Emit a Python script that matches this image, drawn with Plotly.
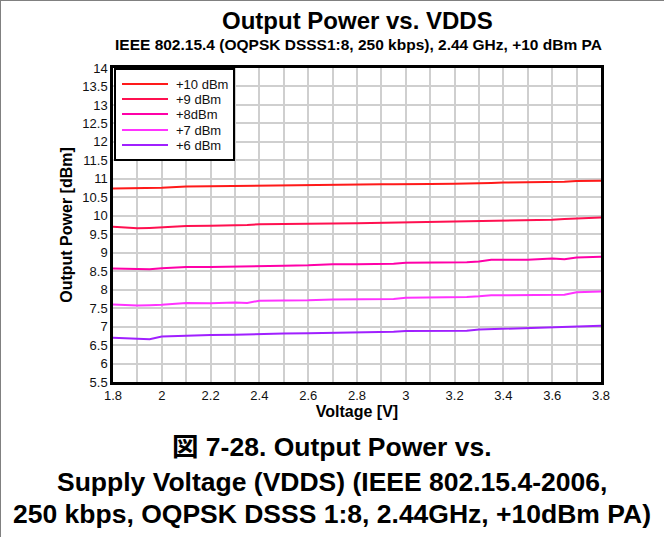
import plotly.graph_objects as go

# Supply voltage sweep points [V]
voltage = [1.8, 1.9, 1.95, 2.0, 2.1, 2.2, 2.3, 2.35, 2.4, 2.5, 2.6, 2.7, 2.8, 2.9,
           2.95, 3.0, 3.1, 3.2, 3.25, 3.3, 3.35, 3.4, 3.5, 3.6, 3.65, 3.7, 3.8]

# Measured output power [dBm] per PA setting
p_10dbm = [10.74, 10.74, 10.74, 10.76, 10.79, 10.80, 10.80, 10.81, 10.82, 10.82, 10.83, 10.83, 10.84, 10.85,
           10.85, 10.86, 10.86, 10.87, 10.87, 10.87, 10.89, 10.90, 10.90, 10.91, 10.92, 10.94, 10.95]
p_9dbm = [9.70, 9.66, 9.67, 9.69, 9.72, 9.73, 9.73, 9.75, 9.77, 9.77, 9.78, 9.79, 9.80, 9.81,
          9.82, 9.83, 9.83, 9.84, 9.84, 9.86, 9.86, 9.87, 9.88, 9.89, 9.91, 9.93, 9.95]
p_8dbm = [8.57, 8.56, 8.55, 8.58, 8.61, 8.61, 8.63, 8.63, 8.64, 8.65, 8.66, 8.69, 8.69, 8.69,
          8.70, 8.73, 8.73, 8.74, 8.74, 8.76, 8.81, 8.81, 8.81, 8.84, 8.82, 8.87, 8.89]
p_7dbm = [7.60, 7.57, 7.58, 7.59, 7.64, 7.63, 7.65, 7.64, 7.70, 7.70, 7.71, 7.73, 7.74, 7.73,
          7.75, 7.78, 7.78, 7.78, 7.80, 7.82, 7.85, 7.85, 7.86, 7.86, 7.86, 7.93, 7.95]
p_6dbm = [6.70, 6.68, 6.66, 6.73, 6.76, 6.77, 6.78, 6.79, 6.81, 6.81, 6.82, 6.83, 6.84, 6.84,
          6.86, 6.88, 6.88, 6.89, 6.89, 6.92, 6.93, 6.94, 6.95, 6.96, 6.97, 6.99, 7.02]

series_names = ["+10 dBm", "+9 dBm", "+8dBm", "+7 dBm", "+6 dBm"]
series_values = [p_10dbm, p_9dbm, p_8dbm, p_7dbm, p_6dbm]
series_colors = ["#ff1a1a", "#ff1050", "#ff00a8", "#ff33ff", "#a020ff"]

x_tick_vals = [1.8, 2.0, 2.2, 2.4, 2.6, 2.8, 3.0, 3.2, 3.4, 3.6, 3.8]
x_tick_text = ["1.8", "2", "2.2", "2.4", "2.6", "2.8", "3", "3.2", "3.4", "3.6", "3.8"]
y_tick_vals = [5.5, 6, 6.5, 7, 7.5, 8, 8.5, 9, 9.5, 10, 10.5, 11, 11.5, 12, 12.5, 13, 13.5, 14]

W, H = 664, 537
ML, MR, MT, MB = 113, 63, 68, 155
PW, PH = W - ML - MR, H - MT - MB


def px(x):
    return (x - ML) / PW


def py(y):
    return (H - MB - y) / PH


FONT = "Liberation Sans, Arial, Helvetica, sans-serif"
CJK_FONT = "Liberation Sans, Noto Sans CJK JP, sans-serif"

fig = go.Figure()
for name, vals, col in zip(series_names, series_values, series_colors):
    fig.add_trace(go.Scatter(x=voltage, y=vals, name=name, mode="lines",
                             line=dict(color=col, width=2), showlegend=False))

grid = "#cfcfcf"
fig.update_xaxes(range=[1.8, 3.8], tickvals=x_tick_vals, ticktext=x_tick_text,
                 showgrid=True, gridcolor=grid, gridwidth=1.5,
                 minor=dict(dtick=0.1, tick0=1.8, showgrid=True, gridcolor=grid, gridwidth=1.5),
                 showline=True, linecolor="black", linewidth=2.5, mirror=True,
                 ticks="", zeroline=False,
                 tickfont=dict(family=FONT, size=13, color="#111"),
                 title=dict(text="<b>Voltage [V]</b>", font=dict(family=FONT, size=16, color="black"),
                            standoff=4))
fig.update_yaxes(range=[5.5, 14], tickvals=y_tick_vals,
                 showgrid=True, gridcolor=grid, gridwidth=1.5,
                 showline=True, linecolor="black", linewidth=2.5, mirror=True,
                 ticks="", zeroline=False,
                 tickfont=dict(family=FONT, size=13, color="#111"),
                 title=dict(text="<b>Output Power [dBm]</b>", font=dict(family=FONT, size=16, color="black"),
                            standoff=6))

shapes = []
annotations = []

# Legend box drawn inside the upper-left corner of the plot
shapes.append(dict(type="rect", xref="paper", yref="paper",
                   x0=px(115), x1=px(234), y0=py(160), y1=py(69),
                   line=dict(color="black", width=2), fillcolor="white", layer="above"))
legend_rows = [84, 99, 114, 130, 145]
for name, col, ry in zip(series_names, series_colors, legend_rows):
    shapes.append(dict(type="line", xref="paper", yref="paper",
                       x0=px(122), x1=px(168), y0=py(ry), y1=py(ry),
                       line=dict(color=col, width=2), layer="above"))
    annotations.append(dict(text=name, xref="paper", yref="paper", x=px(174), y=py(ry),
                            xanchor="left", yanchor="middle", showarrow=False,
                            font=dict(family=FONT, size=13, color="#111")))

# Thin frame on the top and left page edges
shapes.append(dict(type="line", xref="paper", yref="paper", x0=px(0.5), x1=px(0.5),
                   y0=py(0), y1=py(H), line=dict(color="#808080", width=1)))
shapes.append(dict(type="line", xref="paper", yref="paper", x0=px(0), x1=px(W),
                   y0=py(0.5), y1=py(0.5), line=dict(color="#808080", width=1)))

# Titles
annotations.append(dict(text="<b>Output Power vs. VDDS</b>", xref="paper", yref="paper",
                        x=px(357), y=py(21), xanchor="center", yanchor="middle", showarrow=False,
                        font=dict(family=FONT, size=24, color="black")))
annotations.append(dict(text="<b>IEEE 802.15.4 (OQPSK DSSS1:8, 250 kbps), 2.44 GHz, +10 dBm PA</b>",
                        xref="paper", yref="paper", x=px(358), y=py(44), xanchor="center",
                        yanchor="middle", showarrow=False,
                        font=dict(family=FONT, size=15.5, color="black")))

# Figure caption
caption_lines = ["図 7-28. Output Power vs.",
                 "Supply Voltage (VDDS) (IEEE 802.15.4-2006,",
                 "250 kbps, OQPSK DSSS 1:8, 2.44GHz, +10dBm PA)"]
for line, cy in zip(caption_lines, [447, 482, 514]):
    annotations.append(dict(text="<b>" + line + "</b>", xref="paper", yref="paper",
                            x=px(332), y=py(cy), xanchor="center", yanchor="middle",
                            showarrow=False, font=dict(family=CJK_FONT, size=26.5, color="black")))

fig.update_layout(width=W, height=H, margin=dict(l=ML, r=MR, t=MT, b=MB, autoexpand=False),
                  paper_bgcolor="white", plot_bgcolor="white", showlegend=False,
                  shapes=shapes, annotations=annotations)

fig.write_html("out.html")
